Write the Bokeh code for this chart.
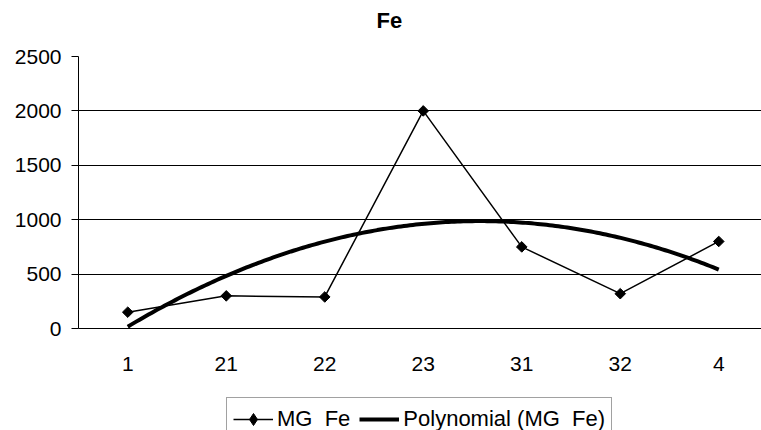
import numpy as np
from bokeh.plotting import figure
from bokeh.layouts import column
from bokeh.models import Range1d, FixedTicker, Legend, LegendItem, Title
from bokeh.embed import file_html
from bokeh.resources import INLINE

categories = ["1", "21", "22", "23", "31", "32", "4"]
mg_fe = [150, 300, 290, 2000, 750, 320, 800]
y_ticks = [0, 500, 1000, 1500, 2000, 2500]

FONT = "Liberation Sans"

xs = list(range(1, len(categories) + 1))
coef = np.polyfit(xs, mg_fe, 2)
trend_x = np.linspace(1, len(categories), 200)
trend_y = np.polyval(coef, trend_x)

p = figure(width=761, height=395, output_backend="svg", toolbar_location=None,
           x_range=Range1d(0.5, 7.434), y_range=Range1d(0, 2500),
           min_border_left=78, min_border_right=0, min_border_top=56, min_border_bottom=67)
p.outline_line_color = None
p.background_fill_color = "white"
p.border_fill_color = "white"

p.title.text = "Fe"
p.title.text_font = FONT
p.title.text_font_size = "22px"
p.title.text_font_style = "bold"
p.title.text_color = "black"
p.title.align = "left"
p.title.offset = 298
p.title.standoff = 10
# spacer between title and plot area
p.add_layout(Title(text=" ", text_font_size="1px", standoff=16), "above")

# axes
p.xaxis.ticker = FixedTicker(ticks=xs)
p.xaxis.major_label_overrides = {x: c for x, c in zip(xs, categories)}
p.xaxis.major_tick_out = 0
p.xaxis.major_tick_in = 0
p.xaxis.minor_tick_out = 0
p.xaxis.minor_tick_in = 0
p.xaxis.major_label_standoff = 28
p.xaxis.axis_line_color = "black"

p.yaxis.ticker = FixedTicker(ticks=y_ticks)
p.yaxis.major_tick_out = 7
p.yaxis.major_tick_in = 0
p.yaxis.minor_tick_out = 0
p.yaxis.minor_tick_in = 0
p.yaxis.major_label_standoff = 10
p.yaxis.axis_line_color = "black"
p.yaxis.major_tick_line_color = "black"

for ax in (p.xaxis, p.yaxis):
    ax.major_label_text_font = FONT
    ax.major_label_text_font_size = "21px"
    ax.major_label_text_color = "black"

p.xgrid.grid_line_color = None
p.ygrid.grid_line_color = "black"
p.ygrid.grid_line_width = 1

p.line(xs, mg_fe, line_color="black", line_width=1.5)
p.scatter(xs, mg_fe, marker="square", angle=np.pi / 4, size=7.5,
          fill_color="black", line_color="black")
p.line(trend_x, trend_y, line_color="black", line_width=4)

# legend strip below the chart (its box runs past the bottom edge, as in the reference)
lg = figure(width=761, height=35, output_backend="svg", toolbar_location=None,
            x_axis_type=None, y_axis_type=None,
            x_range=Range1d(-20, -19), y_range=Range1d(-20, -19),
            min_border_left=78, min_border_right=0, min_border_top=0, min_border_bottom=0)
lg.outline_line_color = None
lg.xgrid.grid_line_color = None
lg.ygrid.grid_line_color = None
lg.background_fill_color = "white"
lg.border_fill_color = "white"
# legend proxies (outside the strip's visible range)
l1 = lg.line(xs, mg_fe, line_color="black", line_width=1.5)
s1 = lg.scatter(xs, mg_fe, marker="diamond", size=12,
                fill_color="black", line_color="black")
l2 = lg.line(trend_x, trend_y, line_color="black", line_width=4)

legend = Legend(items=[LegendItem(label="MG  Fe", renderers=[l1, s1]),
                       LegendItem(label="Polynomial (MG  Fe)", renderers=[l2])],
                orientation="horizontal", location=(148, -11),
                label_text_font=FONT, label_text_font_size="22px", label_text_color="black",
                glyph_width=40, glyph_height=30, label_height=30, label_standoff=4, spacing=9,
                padding=6, margin=0, border_line_color="#444444", border_line_width=1,
                background_fill_color="white", background_fill_alpha=1)
lg.add_layout(legend, "center")

layout = column(p, lg, spacing=0)
open("out.html", "w").write(file_html(layout, INLINE))
